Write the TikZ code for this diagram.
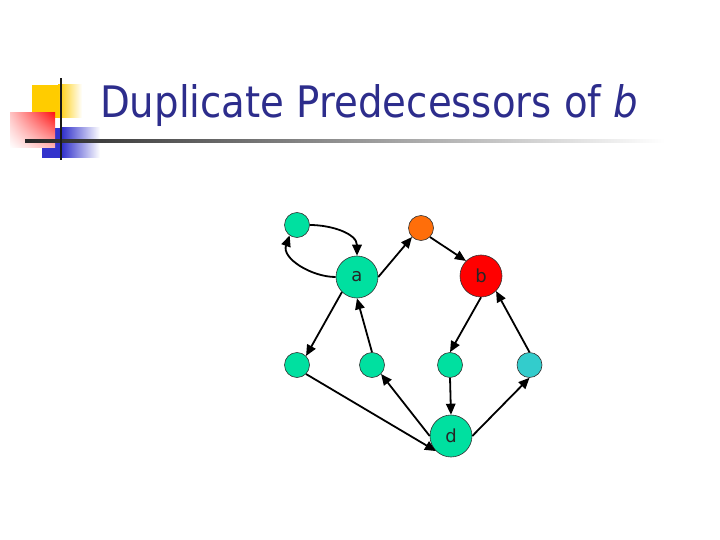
\documentclass[tikz,border=0pt]{standalone}
\usepackage{fontspec}
\setmainfont{DejaVu Sans}
\usetikzlibrary{arrows.meta,shadings}
\definecolor{titleblue}{RGB}{45,45,140}
\definecolor{nodegreen}{RGB}{0,224,160}
\definecolor{nodeteal}{RGB}{51,204,204}
\definecolor{nodeorange}{RGB}{255,110,10}
\definecolor{nodered}{RGB}{255,0,0}
\definecolor{decoyellow}{RGB}{255,204,0}
\definecolor{decored}{RGB}{255,20,20}
\definecolor{decoblue}{RGB}{51,51,204}
\tikzset{
  vsmall/.style={circle, draw=black!80, line width=0.6pt, minimum size=25pt, inner sep=0pt},
  vbig/.style={circle, draw=black!80, line width=0.6pt, minimum size=42pt, inner sep=0pt, font=\fontsize{18}{18}\selectfont, text=black!85},
  edge/.style={line width=1.8pt, -{Triangle[length=11pt,width=9.5pt]}},
}
\begin{document}
\begin{tikzpicture}[x=1pt,y=-1pt]
\useasboundingbox (0,0) rectangle (720,540);
% decoration
\fill[decoyellow] (32,85) rectangle (58,118);
\shade[left color=decoyellow, right color=white] (58,85) rectangle (82,118);
\fill[decoblue] (42,128) rectangle (62,158);
\shade[left color=decoblue, right color=white] (62,128) rectangle (100,158);
\shade[upper left=decored!25, upper right=decored, lower left=white, lower right=decored!30] (10,113) rectangle (55,148);
\shade[left color=black!85, right color=white] (25,140) rectangle (665,142.2);
\fill[black!90] (60,78) rectangle (62.2,160);
% title
\node[anchor=base west, inner sep=0pt, text=titleblue] (title) at (100,118)
  {\resizebox{538pt}{33pt}{Duplicate Predecessors of \textit{b}}};
% nodes
\node[vsmall, fill=nodegreen] (t1) at (297,225) {};
\node[vbig, fill=nodegreen] (a) at (357,277) {a};
\node[vsmall, fill=nodeorange] (o) at (421,228) {};
\node[vbig, fill=nodered] (b) at (481,276) {b};
\node[vsmall, fill=nodegreen] (n1) at (297,365) {};
\node[vsmall, fill=nodegreen] (n2) at (372,365) {};
\node[vsmall, fill=nodegreen] (n3) at (450,365) {};
\node[vsmall, fill=nodeteal] (n4) at (529.5,365) {};
\node[vbig, fill=nodegreen] (d) at (451,436) {d};
% edges
\draw[edge] (t1.east) to[out=0, in=90] (a.north);
\draw[edge] (a.west) to[out=180, in=-110] (t1.235);
\draw[edge] (a.east) -- (o.south west);
\draw[edge] (o.south east) -- (b.north west);
\draw[edge] (b.south) -- (n3.north);
\draw[edge] (n4.north) -- (b.south east);
\draw[edge] (a.south west) -- (n1.north east);
\draw[edge] (n2.north) -- (a.south);
\draw[edge] (n1.south east) -- (d.south west);
\draw[edge] (d.west) -- (n2.south east);
\draw[edge] (n3.south) -- (d.north);
\draw[edge] (d.east) -- (n4.south);
\end{tikzpicture}
\end{document}
